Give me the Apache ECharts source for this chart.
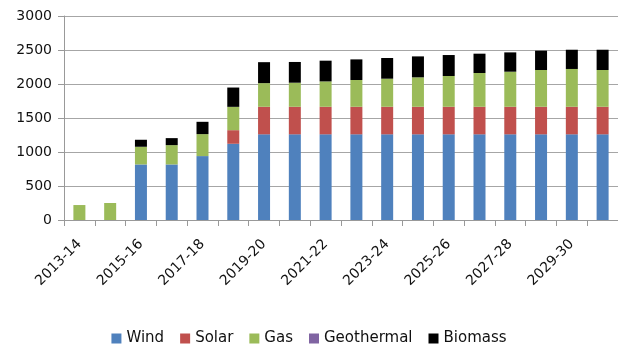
<!DOCTYPE html>
<html>
<head>
<meta charset="utf-8">
<script src="https://cdn.jsdelivr.net/npm/echarts@6/dist/echarts.min.js"></script>
<style>
  html, body { margin: 0; padding: 0; background: #fff; }
  #chart { width: 618px; height: 347px; }
</style>
</head>
<body>
<div id="chart"></div>
<script>
// Financial years
const years = ['2013-14','2014-15','2015-16','2016-17','2017-18','2018-19','2019-20','2020-21',
  '2021-22','2022-23','2023-24','2024-25','2025-26','2026-27','2027-28','2028-29','2029-30','2030-31'];

// Generation by source (stacked)
const wind       = [0, 0, 817, 817, 940, 1121, 1260, 1260, 1260, 1260, 1260, 1260, 1260, 1260, 1260, 1260, 1260, 1260];
const solar      = [0, 0, 0, 0, 0, 200, 405, 405, 405, 405, 405, 405, 405, 405, 405, 405, 405, 405];
const gas        = [220, 250, 260, 284, 323, 343, 348, 354, 373, 394, 413, 433, 453, 497, 516, 541, 556, 541];
const geothermal = [0, 0, 0, 0, 0, 0, 0, 0, 0, 0, 0, 0, 0, 0, 0, 0, 0, 0];
const biomass    = [0, 0, 103, 103, 181, 284, 308, 305, 305, 303, 304, 308, 308, 284, 284, 284, 283, 298];

const yTicks = { min: 0, max: 3000, interval: 500 };

const FONT = 'DejaVu Sans';
const seriesDefs = [
  { name: 'Wind', data: wind, color: '#4F81BD' },
  { name: 'Solar', data: solar, color: '#C0504D' },
  { name: 'Gas', data: gas, color: '#9BBB59' },
  { name: 'Geothermal', data: geothermal, color: '#8064A2' },
  { name: 'Biomass', data: biomass, color: '#000000' }
];

const chart = echarts.init(document.getElementById('chart'), null, { renderer: 'canvas' });
chart.setOption({
  animation: false,
  grid: { left: 64, right: -2, top: 16, bottom: 127, containLabel: false },
  legend: {
    bottom: -4,
    left: 'center',
    itemWidth: 10,
    itemHeight: 10,
    itemGap: 16,
    icon: 'rect',
    textStyle: { fontFamily: FONT, fontSize: 15, color: '#111' },
    data: seriesDefs.map(s => s.name)
  },
  xAxis: {
    type: 'category',
    data: years,
    axisLine: { lineStyle: { color: '#999', width: 1 } },
    axisTick: { show: true, alignWithLabel: false, interval: 0, length: 6, lineStyle: { color: '#999' } },
    axisLabel: {
      interval: 1,
      rotate: 45,
      margin: 22,
      fontFamily: FONT,
      fontSize: 14,
      color: '#111'
    }
  },
  yAxis: {
    type: 'value',
    min: yTicks.min,
    max: yTicks.max,
    interval: yTicks.interval,
    axisLine: { show: true, lineStyle: { color: '#999', width: 1 } },
    axisTick: { show: true, length: 6, lineStyle: { color: '#999' } },
    splitLine: { lineStyle: { color: '#a6a6a6', width: 1 } },
    axisLabel: { margin: 12, fontFamily: FONT, fontSize: 14, color: '#111', formatter: v => String(v) }
  },
  series: seriesDefs.map(s => ({
    name: s.name,
    type: 'bar',
    stack: 'total',
    barWidth: 12,
    data: s.data,
    itemStyle: { color: s.color }
  }))
});
</script>
</body>
</html>
